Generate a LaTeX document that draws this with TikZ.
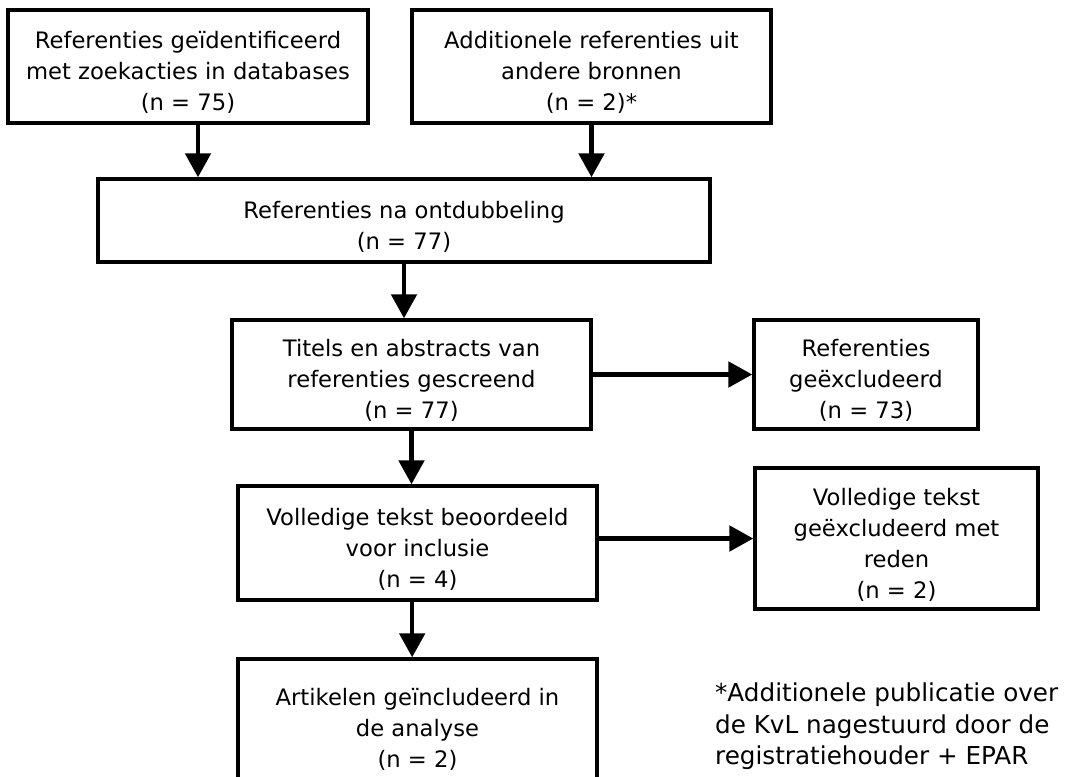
\documentclass[tikz,border=0pt]{standalone}
\usepackage{fontspec}
\setmainfont{DejaVu Sans}
\usetikzlibrary{arrows.meta}
\newcommand{\bxstrut}{\rule{0pt}{22pt}}

\begin{document}
\begin{tikzpicture}[x=0.75pt,y=-0.75pt,->,>={Triangle[width=19pt,length=18pt]},line width=3.2pt]
  \tikzstyle{box}=[rectangle,draw,line width=2.6pt,align=center,inner sep=0pt,
    font=\fontsize{17}{23.25}\selectfont]
  \path[use as bounding box,clip,-] (0,0) rectangle (1065,776);

  \node[box, minimum width=270pt, minimum height=84.75pt] (B_1) at (188,66.5)
    {\bxstrut Referenties geïdentificeerd\\met zoekacties in databases\\(n = 75)};
  \node[box, minimum width=269.25pt, minimum height=84.75pt] (B_2) at (591.5,66.5)
    {\bxstrut Additionele referenties uit\\andere bronnen\\(n = 2)*};
  \node[box, minimum width=459pt, minimum height=62.25pt] (B_3) at (404,220.5)
    {\bxstrut Referenties na ontdubbeling\\(n = 77)};
  \node[box, minimum width=269.25pt, minimum height=81.75pt] (B_4) at (411.5,374.5)
    {\bxstrut Titels en abstracts van\\referenties gescreend\\(n = 77)};
  \node[box, minimum width=168pt, minimum height=81.75pt] (B_5) at (866,374.5)
    {\bxstrut Referenties\\geëxcludeerd\\(n = 73)};
  \node[box, minimum width=269.25pt, minimum height=85.5pt] (B_6) at (417.5,543)
    {\bxstrut Volledige tekst beoordeeld\\voor inclusie\\(n = 4)};
  \node[box, minimum width=212.25pt, minimum height=105.75pt] (B_7) at (896.5,538.5)
    {\bxstrut Volledige tekst\\geëxcludeerd met\\reden\\(n = 2)};
  \node[box, minimum width=269.25pt, minimum height=96.75pt] (B_8) at (417.5,723.5)
    {\bxstrut Artikelen geïncludeerd in\\de analyse\\(n = 2)};

  \node[anchor=north west, align=left, inner sep=0pt, font=\fontsize{18.5}{23.5}\selectfont] (N) at (713,681)
    {*Additionele publicatie over\\de KvL nagestuurd door de\\registratiehouder + EPAR};

  \draw ([xshift=7.5pt]B_1.south) -- ([xshift=7.5pt]B_1.south |- B_3.north);
  \draw (B_2.south) -- (B_2.south |- B_3.north);
  \draw (B_3.south) -- (B_3.south |- B_4.north);
  \draw (B_4.east) -- (B_5.west);
  \draw (B_4.south) -- (B_4.south |- B_6.north);
  \draw (B_7.west -| B_6.east) -- (B_7.west);
  \draw ([xshift=-4pt]B_6.south) -- ([xshift=-4pt]B_6.south |- B_8.north);
\end{tikzpicture}
\end{document}
